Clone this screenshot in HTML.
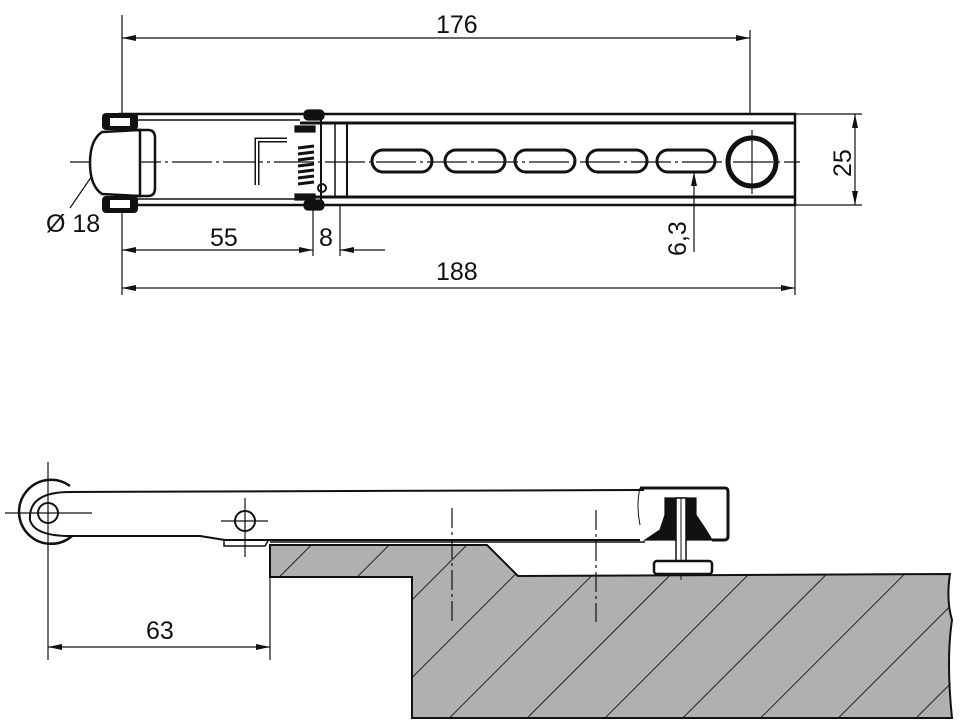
<!DOCTYPE html>
<html><head><style>
html,body{margin:0;padding:0;background:#fff;}
svg{display:block;}
text{font-family:"Liberation Sans",sans-serif;font-size:25px;fill:#111;}
</style></head><body>
<svg width="966" height="726" viewBox="0 0 966 726" xmlns="http://www.w3.org/2000/svg">
<defs>
<marker id="a" viewBox="0 0 14 6" refX="14" refY="3" markerWidth="14" markerHeight="6" orient="auto-start-reverse" markerUnits="userSpaceOnUse"><path d="M0,0 L14,3 L0,6 Z" fill="#111"/></marker>
<pattern id="h" patternUnits="userSpaceOnUse" width="55" height="55" patternTransform="rotate(45)">
<rect width="55" height="55" fill="#b0b0b0"/><line x1="0" y1="0" x2="0" y2="55" stroke="#222" stroke-width="2"/></pattern>
</defs>
<g stroke="#111" fill="none" stroke-width="1.2">
<line x1="122" y1="15" x2="122" y2="295"/>
<line x1="70" y1="162" x2="800" y2="162" stroke-dasharray="40,4,3,4"/>
<line x1="122" y1="38" x2="750" y2="38" marker-start="url(#a)" marker-end="url(#a)"/>
<line x1="750" y1="30" x2="750" y2="115"/>
<line x1="122" y1="288" x2="795" y2="288" marker-start="url(#a)" marker-end="url(#a)"/>
<line x1="795" y1="204" x2="795" y2="295"/>
<line x1="122" y1="250" x2="313" y2="250" marker-start="url(#a)" marker-end="url(#a)"/>
<line x1="313" y1="204" x2="313" y2="256"/>
<line x1="340" y1="204" x2="340" y2="256"/>
<line x1="340" y1="250" x2="385" y2="250" marker-start="url(#a)"/>
<line x1="795" y1="114" x2="862" y2="114"/>
<line x1="795" y1="205" x2="862" y2="205"/>
<line x1="855" y1="114" x2="855" y2="205" marker-start="url(#a)" marker-end="url(#a)"/>
<line x1="694" y1="252" x2="694" y2="172" marker-end="url(#a)"/>
<line x1="70" y1="208" x2="96" y2="170"/>
<rect x="120" y="114" width="675" height="91" stroke-width="2.5"/>
<line x1="300" y1="123" x2="795" y2="123" stroke-width="3"/>
<line x1="300" y1="197" x2="795" y2="197" stroke-width="3"/>
<line x1="120" y1="120" x2="300" y2="120" stroke-width="1.5"/>
<line x1="120" y1="199" x2="300" y2="199" stroke-width="1.5"/>
<line x1="335" y1="123" x2="335" y2="197" stroke-width="1.5"/>
<line x1="347" y1="123" x2="347" y2="197" stroke-width="2"/>
<line x1="321" y1="114" x2="321" y2="205" stroke-width="2"/>
<!-- roller -->
<path d="M102,132 L140,130 L140,196 L102,194 Q90,186 90,163 Q90,140 102,132 Z" stroke-width="2.5" fill="#fff"/>
<path d="M135,130 L148,130 Q155,130 155,138 L155,188 Q155,196 148,196 L135,196" stroke-width="2.5"/>
<rect x="102" y="113" width="36" height="17" rx="4" fill="#111" stroke="none"/>
<rect x="102" y="196" width="36" height="17" rx="4" fill="#111" stroke="none"/>
<rect x="110" y="118" width="20" height="8" fill="#fff" stroke="none"/>
<rect x="110" y="200" width="20" height="8" fill="#fff" stroke="none"/>
<path d="M257,185 L257,140 L287,140" stroke-width="5"/>
<path d="M257,185 L257,140 L287,140" stroke="#fff" stroke-width="2"/>
<g stroke-width="3">
<line x1="298" y1="148" x2="314" y2="146"/><line x1="298" y1="154" x2="314" y2="152"/><line x1="298" y1="160" x2="314" y2="158"/><line x1="298" y1="166" x2="314" y2="164"/><line x1="298" y1="172" x2="314" y2="170"/><line x1="298" y1="178" x2="314" y2="176"/><line x1="298" y1="184" x2="314" y2="182"/>
</g>
<rect x="304" y="110" width="20" height="10" rx="4" fill="#111"/>
<rect x="304" y="200" width="20" height="10" rx="4" fill="#111"/>
<rect x="295" y="126" width="20" height="6" fill="#111"/>
<rect x="295" y="194" width="20" height="6" fill="#111"/>
<circle cx="322" cy="188" r="4" stroke-width="2"/>
<g stroke-width="3">
<rect x="372" y="150" width="60" height="22" rx="11"/>
<rect x="445" y="150" width="60" height="22" rx="11"/>
<rect x="515" y="150" width="60" height="22" rx="11"/>
<rect x="587" y="150" width="60" height="22" rx="11"/>
<rect x="657" y="150" width="58" height="22" rx="11"/>
</g>
<circle cx="752" cy="162" r="24" stroke-width="5"/>
<line x1="752" y1="130" x2="752" y2="194"/>
</g>
<text x="436" y="33">176</text>
<text x="436" y="280">188</text>
<text x="210" y="246">55</text>
<text x="319" y="246">8</text>
<text x="46" y="232">Ø 18</text>
<text transform="translate(851,177) rotate(-90)">25</text>
<text transform="translate(686,256) rotate(-90)">6,3</text>

<path d="M270,545 L487,545 L518,576 L950,574 Q946,600 952,620 Q946,660 952,718 L412,718 L412,577 L270,577 Z" fill="url(#h)" stroke="#111" stroke-width="2"/>
<g stroke="#111" fill="none" stroke-width="1.2">
<line x1="48" y1="462" x2="48" y2="525"/>
<line x1="5" y1="513" x2="92" y2="513"/>
<line x1="48" y1="525" x2="48" y2="660"/>
<line x1="270" y1="577" x2="270" y2="660"/>
<line x1="48" y1="647" x2="270" y2="647" marker-start="url(#a)" marker-end="url(#a)"/>
<line x1="245" y1="498" x2="245" y2="557"/>
<line x1="221" y1="521" x2="268" y2="521"/>
<line x1="452" y1="508" x2="452" y2="622" stroke-dasharray="20,4,3,4"/>
<line x1="596" y1="510" x2="596" y2="622" stroke-dasharray="20,4,3,4"/>
<path d="M68,492 L644,490 M66,536 L200,536 L225,540 L640,540" stroke-width="2"/>
<path d="M70,486 A32,32 0 1 0 72,536" stroke-width="2.5"/>
<path d="M70,492 Q28,492 30,520 Q34,535 66,536" stroke-width="2"/>
<circle cx="48" cy="513" r="10" stroke-width="2"/>
<circle cx="245" cy="521" r="10" stroke-width="2"/>
<path d="M224,540 L224,546 L265,546 L268,541" stroke-width="1.5"/>
<line x1="270" y1="542" x2="645" y2="542" stroke-width="1.5"/>
<path d="M640,488 L725,488 Q728,488 728,492 L728,536 Q728,540 724,540 L712,540" stroke-width="3"/>
<path d="M640,488 Q636,505 640,525" stroke-width="1"/>
<path d="M665,498 L696,498 L696,515 L706,530 L712,540 L645,540 L660,530 L665,515 Z" fill="#111"/>
<rect x="676" y="498" width="10" height="64" fill="#fff" stroke-width="1.5"/>
<line x1="681" y1="498" x2="681" y2="580" stroke-width="1"/>
<rect x="654" y="561" width="58" height="13" rx="3" fill="#fff" stroke-width="2.5"/>
</g>
<text x="146" y="639">63</text>
</svg>
</body></html>
